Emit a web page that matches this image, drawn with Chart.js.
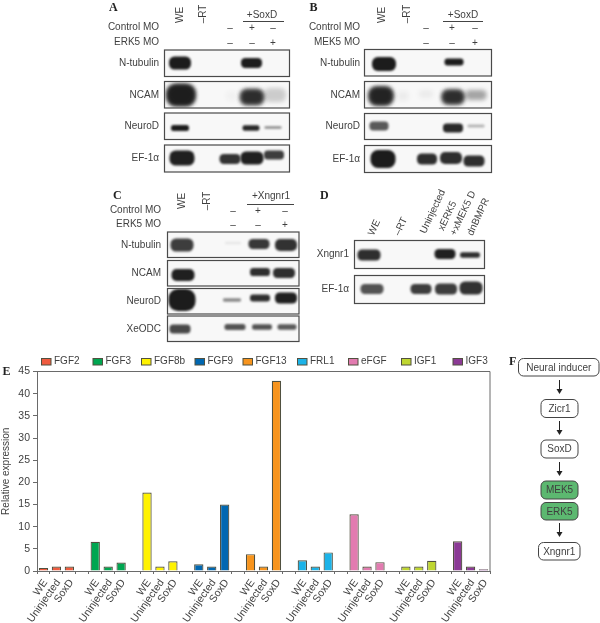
<!DOCTYPE html>
<html><head><meta charset="utf-8">
<script src="https://cdn.jsdelivr.net/npm/chart.js@4"></script>
<style>html,body{margin:0;padding:0;background:#fff}canvas{display:block}</style>
</head><body><div style="width:600px;height:623px;position:relative"><canvas id="c"></canvas></div>
<script>
// ---- bar chart data
const categories = ['WE','Uninjected','SoxD'];
const seriesNames = ['FGF2','FGF3','FGF8b','FGF9','FGF13','FRL1','eFGF','IGF1','IGF3'];
const fgf2  = [0.7, 1, 1];
const fgf3  = [6.6, 1, 1.9];
const fgf8b = [17.7, 1, 2.2];
const fgf9  = [1.5, 1, 15];
const fgf13 = [3.8, 1, 42.9];
const frl1  = [2.4, 1, 4.2];
const efgf  = [12.8, 1, 2];
const igf1  = [1, 1, 2.3];
const igf3  = [6.7, 1, 0.4];
const yTicks = [0,5,10,15,20,25,30,35,40,45];
const allSeries = [fgf2,fgf3,fgf8b,fgf9,fgf13,frl1,efgf,igf1,igf3];

// ---- blot band darkness by lane (WE, -RT, lane 3, lane 4, lane 5)
const aTub = [1,0,0,1,0],      aNcam = [.92,0,.03,.72,.2],   aNeuro = [1,0,0,.95,.5],   aEf = [.98,0,.9,.98,.85];
const bTub = [1,0,0,1,0],      bNcam = [.82,.05,.06,.72,.38],bNeuro = [.72,0,0,.95,.3], bEf = [1,0,.92,.92,.92];
const cTub = [.85,0,.08,.88,.9],cNcam = [.98,0,0,.92,.92],   cNeuro = [1,0,.5,.92,.98], cOdc = [.8,0,.75,.75,.72];
const dXng = [.92,0,0,.98,.92],dEf = [.75,0,.85,.85,.9];

// ---- styling & layout only
const colors = ['#ef5b3f','#00a651','#fff200','#0067b1','#f7941d','#1cb3e8','#e27bb0','#bfd630','#8b3a95'];
const legendX = [41.5,93,141.5,195,243,297.5,348.5,401.5,453];
const INK='#3f3f3f', FONT='"Liberation Sans", Arial, sans-serif';

const panels = [
 {letter:'A',lx:109,ly:8,x:164.5,w:125,labelX:159,lanes:[180,203,230,252,273],
  rowsY:[[50,26.5],[81.5,26.5],[113,26.5],[145,27]],
  names:['N-tubulin','NCAM','NeuroD','EF-1α'],dark:[aTub,aNcam,aNeuro,aEf],
  shapes:[[[180,63,22,13],null,null,[251.5,63,21,10],null],
          [[181,95,28,21],null,[232,96,12,10],[252,97,23,15],[275,95,22,14]],
          [[180,128,18,6],null,null,[251,128,17,5.5],[273,127.5,17,2.5]],
          [[182,158,25,15],null,[230,159,21,10],[252,158,23,13],[274,155,20,9]]],
  head:{text:'+SoxD',cx:262,y:15.5,x1:243,x2:284,ly:21,weY:15,rtY:14},
  rowsTop:[['Control MO',27,['–','+','–']],['ERK5 MO',42.5,['–','–','+']]],signX:[230,252,273]},
 {letter:'B',lx:309.5,ly:8,x:364.5,w:127,labelX:360,lanes:[382,407,426,452,475],
  rowsY:[[49.5,26.5],[81.5,26.5],[113.5,26],[145.5,27]],
  names:['N-tubulin','NCAM','NeuroD','EF-1α'],dark:[bTub,bNcam,bNeuro,bEf],
  shapes:[[[384,64,24,14],null,null,[454,62,19,7],null],
          [[381,96,24,18],[403,96,12,10],[426,94,14,8],[453,97,22,14],[476,95,21,10]],
          [[379,126,19,9],null,null,[453,128,20,9],[476,126,17,3]],
          [[383,159,25,18],null,[427,159,20,11],[451,158,22,12],[474,161,21,11]]],
  head:{text:'+SoxD',cx:463,y:15.5,x1:443,x2:483,ly:21,weY:15,rtY:14},
  rowsTop:[['Control MO',27,['–','+','–']],['MEK5 MO',42.5,['–','–','+']]],signX:[426,452,475]},
 {letter:'C',lx:113,ly:196,x:167.5,w:131.5,labelX:161,lanes:[182,207,233,259,285],
  rowsY:[[232,25.5],[260.5,25.5],[288.5,25.5],[316,25.5]],
  names:['N-tubulin','NCAM','NeuroD','XeODC'],dark:[cTub,cNcam,cNeuro,cOdc],
  shapes:[[[182,245,23,13],null,[233,243,16,2.5],[259,244,21,10],[286,245,22,12]],
          [[183,275,23,12],null,null,[260,272,20,8],[284,273,22,10]],
          [[182,300,27,22],null,[232,300,18,3.5],[260,298,20,7],[286,298,22,11]],
          [[180,329,21,9],null,[235,327,21,6],[262,327,20,5.5],[287,327,19,5.5]]],
  head:{text:'+Xngnr1',cx:271,y:196.5,x1:247,x2:294,ly:204,weY:201,rtY:201},
  rowsTop:[['Control MO',210,['–','+','–']],['ERK5 MO',224,['–','–','+']]],signX:[233,258,285]},
 {letter:'D',lx:320,ly:196,x:354.5,w:130,labelX:349,lanes:[370,398,421,446,470],
  rowsY:[[240.5,28],[275.5,28]],
  names:['Xngnr1','EF-1α'],dark:[dXng,dEf],
  shapes:[[[369,255,23,11],null,null,[445,254,21,10],[470,255,20,5.5]],
          [[372,289,23,10],null,[421,289,21,10],[446,289,22,11],[471,288,23,13]]],
  rotated:[['WE',371,235],['–RT',397,235],['Uninjected',423,233],['xERK5',441,230],['+xMEK5 D',453,235],['dnBMPR',470,235]]}
];
const flow = [
 {t:'Neural inducer',x1:518.5,x2:599,y1:358.5,y2:376},
 {t:'Zicr1',x1:541,x2:578,y1:399.5,y2:417.5},
 {t:'SoxD',x1:541,x2:578,y1:440,y2:458},
 {t:'MEK5',x1:541,x2:578,y1:481,y2:499,green:1},
 {t:'ERK5',x1:541,x2:578,y1:502.5,y2:520,green:1},
 {t:'Xngnr1',x1:538.5,x2:580,y1:542.5,y2:560}
];
const arrows = [[380,394],[421,435],[462,476],[523,537]];

// build category axis of 35 slots: 3 bars + 1 gap per group
const labels = [];
seriesNames.forEach((s,i)=>{ labels.push(...categories); if(i<seriesNames.length-1) labels.push(''); });
const datasets = seriesNames.map((name,i)=>{
  const data = new Array(labels.length).fill(null);
  allSeries[i].forEach((v,j)=>{ data[i*4+j]=v; });
  return {label:name,data,backgroundColor:colors[i],borderColor:'#50503f',borderWidth:1.2};
});

function txt(ctx,s,x,y,align,font,color){
  ctx.font=font||('10px '+FONT); ctx.fillStyle=color||INK; ctx.textAlign=align||'left'; ctx.textBaseline='middle';
  ctx.fillText(s,x,y);
}
function rotTxt(ctx,s,x,y,deg,align){
  ctx.save(); ctx.translate(x,y); ctx.rotate(deg*Math.PI/180);
  txt(ctx,s,0,0,align||'left'); ctx.restore();
}
const decor = {
  id:'decor',
  afterDraw(chart){
    const ctx=chart.ctx, a=chart.chartArea;
    ctx.save();
    ctx.strokeStyle='#6a6a6a'; ctx.lineWidth=1;
    ctx.beginPath(); ctx.moveTo(a.left,a.top); ctx.lineTo(a.right,a.top); ctx.lineTo(a.right,a.bottom); ctx.stroke();
    chart.data.datasets.forEach((d,i)=>{
      const x=legendX[i];
      ctx.fillStyle=d.backgroundColor; ctx.fillRect(x,358.5,9.5,6.5);
      ctx.strokeStyle='#50503f'; ctx.lineWidth=1; ctx.strokeRect(x,358.5,9.5,6.5);
      txt(ctx,d.label,x+12.5,361.5);
    });
    const bold='bold 12px "Liberation Serif", serif';
    txt(ctx,'E',2.5,372,'left',bold,'#222'); txt(ctx,'F',509,362,'left',bold,'#222');
    panels.forEach(p=>{
      txt(ctx,p.letter,p.lx,p.ly,'left',bold,'#222');
      p.rowsY.forEach((r,ri)=>{
        const [y,h]=r;
        ctx.fillStyle='#f8f8f8'; ctx.fillRect(p.x,y,p.w,h);
        ctx.save(); ctx.beginPath(); ctx.rect(p.x,y,p.w,h); ctx.clip();
        const diffuse=p.names[ri]==='NCAM'&&(p.letter==='A'||p.letter==='B');
        p.shapes[ri].forEach((s,li)=>{
          const d=p.dark[ri][li]; if(!s||!d) return;
          const [cx,cy,w,bh]=s;
          ctx.filter='blur('+(diffuse?2.2:(bh<5?0.8:1.2))+'px)';
          ctx.fillStyle='rgba(28,28,28,'+d+')';
          ctx.beginPath(); ctx.roundRect(cx-w/2,cy-bh/2,w,bh,bh*0.42); ctx.fill();
          if(diffuse&&d>.5) ctx.fill();
          ctx.filter='none';
        });
        ctx.restore();
        ctx.strokeStyle='#4a4a4a'; ctx.lineWidth=1.2; ctx.strokeRect(p.x,y,p.w,h);
        txt(ctx,p.names[ri],p.labelX,y+h/2,'right');
      });
      if(p.head){
        txt(ctx,p.head.text,p.head.cx,p.head.y,'center');
        ctx.strokeStyle='#444'; ctx.lineWidth=1;
        ctx.beginPath(); ctx.moveTo(p.head.x1,p.head.ly+.5); ctx.lineTo(p.head.x2,p.head.ly+.5); ctx.stroke();
        rotTxt(ctx,'WE',p.lanes[0],p.head.weY,-90,'center');
        rotTxt(ctx,'–RT',p.lanes[1],p.head.rtY,-90,'center');
        p.rowsTop.forEach(r=>{
          txt(ctx,r[0],p.labelX,r[1],'right');
          r[2].forEach((sg,i)=>txt(ctx,sg,p.signX[i],r[1]+1,'center'));
        });
      }
      if(p.rotated) p.rotated.forEach(r=>rotTxt(ctx,r[0],r[1],r[2],-65,'left'));
    });
    flow.forEach(b=>{
      ctx.beginPath(); ctx.roundRect(b.x1,b.y1,b.x2-b.x1,b.y2-b.y1,5);
      ctx.fillStyle=b.green?'#5cb870':'#fff'; ctx.fill();
      ctx.strokeStyle='#444'; ctx.lineWidth=1; ctx.stroke();
      txt(ctx,b.t,(b.x1+b.x2)/2,(b.y1+b.y2)/2+.5,'center');
    });
    arrows.forEach(ar=>{
      const x=559;
      ctx.strokeStyle='#222'; ctx.lineWidth=1;
      ctx.beginPath(); ctx.moveTo(x+.5,ar[0]); ctx.lineTo(x+.5,ar[1]-3); ctx.stroke();
      ctx.fillStyle='#222'; ctx.beginPath(); ctx.moveTo(x-2.5,ar[1]-5); ctx.lineTo(x+3.5,ar[1]-5); ctx.lineTo(x+.5,ar[1]); ctx.closePath(); ctx.fill();
    });
    ctx.restore();
  }
};

new Chart(document.getElementById('c'),{
  type:'bar',
  data:{labels,datasets},
  plugins:[decor],
  options:{
    responsive:true,maintainAspectRatio:false,animation:false,
    layout:{padding:{top:371.5,left:0,right:110,bottom:0}},
    plugins:{legend:{display:false},tooltip:{enabled:false},title:{display:false}},
    datasets:{bar:{grouped:false,barPercentage:.72,categoryPercentage:1}},
    scales:{
      x:{
        afterFit(s){ s.height=52; s.paddingLeft=0; s.paddingRight=0; },
        grid:{display:true,drawOnChartArea:false,offset:true,tickLength:3,color:'#6a6a6a'},
        border:{color:'#6a6a6a',width:1},
        ticks:{autoSkip:false,minRotation:55,maxRotation:55,padding:3,labelOffset:2,color:INK,font:{family:FONT,size:10.5}}
      },
      y:{
        min:0,max:45,
        afterFit(s){ s.width=37; },
        afterBuildTicks(s){ s.ticks=yTicks.map(v=>({value:v})); },
        grid:{display:true,drawOnChartArea:false,tickLength:4,color:'#6a6a6a'},
        border:{color:'#6a6a6a',width:1},
        title:{display:true,text:'Relative expression',color:INK,font:{family:FONT,size:10},padding:0},
        ticks:{padding:3,color:INK,font:{family:FONT,size:10.5}}
      }
    }
  }
});
</script></body></html>
